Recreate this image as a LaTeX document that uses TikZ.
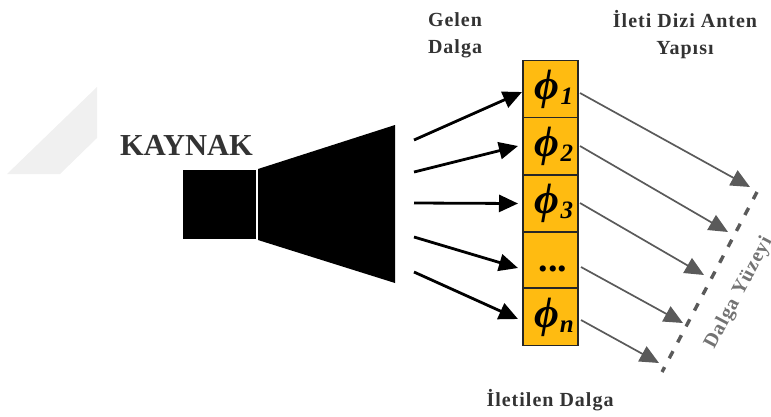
\documentclass[tikz,border=0pt]{standalone}
\usepackage{fontspec}
\setmainfont{Liberation Serif}
\newfontfamily\lblfont[LetterSpace=5]{Liberation Serif}
\usepackage{tikz}
\usetikzlibrary{arrows.meta}
\definecolor{cellfill}{HTML}{FFBB11}
\definecolor{wavegray}{HTML}{5A5A5A}
\newcommand{\phlab}[1]{\hspace*{7pt}\fontsize{43}{43}\selectfont\bfseries\itshape ϕ\kern1pt\raisebox{-5pt}{\fontsize{25}{25}\selectfont #1}}

\begin{document}
\begin{tikzpicture}[
  x=1pt, y=-1pt,
  cell/.style={draw=black!85, fill=cellfill, line width=1.5pt, minimum width=55pt,
               minimum height=57pt, inner sep=0pt, anchor=center},
  src/.style={fill=black, inner sep=0pt, minimum width=73pt, minimum height=69pt},
  lbl/.style={font=\lblfont\fontsize{20}{27}\selectfont\bfseries, text=black!80, align=center},
  inwave/.style={draw=black, line width=2.8pt, -{Triangle[length=19pt,width=17pt]}},
  outwave/.style={draw=wavegray, line width=1.7pt, -{Triangle[length=19pt,width=17pt]}},
]
  \useasboundingbox (0,0) rectangle (771,416);
  \fill[black!6] (97,87) -- (97,138) -- (60,174) -- (7,174) -- cycle;
  \node[src] (feed) at (219.5,204.5) {};
  \fill[black] (258,169) -- (395,125) -- (395,283) -- (258,240) -- cycle;
  \node[lbl, font=\fontsize{30.5}{30}\selectfont\bfseries] (kaynak) at (186.5,145) {KAYNAK};
  \node[lbl] (gelen) at (455,35) {Gelen\\Dalga};
  \node[lbl] (yapi) at (685,35) {İleti Dizi Anten\\Yapısı};
  \node[lbl] (iletilen) at (550,400) {İletilen Dalga};
  \node[cell] (ph1) at (550.5,89) {\phlab{1}};
  \node[cell] (ph2) at (550.5,146) {\phlab{2}};
  \node[cell] (ph3) at (550.5,203.5) {\phlab{3}};
  \node[cell, minimum height=56pt] (ph4) at (550.5,260) {};
  \node[cell] (ph5) at (550.5,317) {\phlab{n}};
  \node[font=\fontsize{38}{38}\selectfont\bfseries] (dots) at (553,269) {...};
  \coordinate (in1) at (414,140);
  \coordinate (in2) at (414,172);
  \coordinate (in3) at (414,203);
  \coordinate (in4) at (414,237);
  \coordinate (in5) at (414,272);
  \coordinate (tip1) at (522,92);
  \coordinate (tip2) at (518,146);
  \coordinate (tip3) at (518,203.5);
  \coordinate (tip4) at (518,268);
  \coordinate (tip5) at (518,319);
  \coordinate (out1) at (580,93);
  \coordinate (out2) at (580,146);
  \coordinate (out3) at (580,203);
  \coordinate (out4) at (581,267);
  \coordinate (out5) at (581,320);
  \coordinate (w1) at (750,187);
  \coordinate (w2) at (728,232);
  \coordinate (w3) at (704,275);
  \coordinate (w4) at (683,323);
  \coordinate (w5) at (659,363);
  \coordinate (surfa) at (757,192);
  \coordinate (surfb) at (662,372);
  \draw[inwave] (in1) -- (tip1);
  \draw[inwave] (in2) -- (tip2);
  \draw[inwave] (in3) -- (tip3);
  \draw[inwave] (in4) -- (tip4);
  \draw[inwave] (in5) -- (tip5);
  \draw[outwave] (out1) -- (w1);
  \draw[outwave] (out2) -- (w2);
  \draw[outwave] (out3) -- (w3);
  \draw[outwave] (out4) -- (w4);
  \draw[outwave] (out5) -- (w5);
  \draw[wavegray, line width=3.4pt, dash pattern=on 8pt off 10pt] (surfa) -- (surfb);
  \node[lbl, text=black!55, rotate=62] (yuzey) at (739,293) {Dalga Yüzeyi};
\end{tikzpicture}
\end{document}
